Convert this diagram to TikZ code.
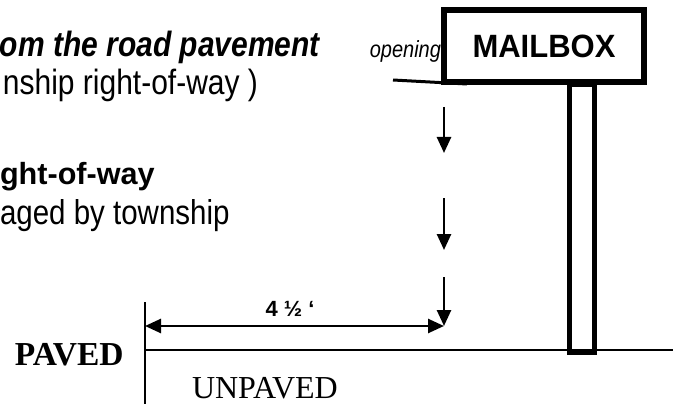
\documentclass[tikz,border=0pt]{standalone}
\usepackage{fontspec}
\setmainfont{Liberation Sans}
\newfontfamily\serifface{Liberation Serif}
\usetikzlibrary{arrows.meta}
\tikzset{
  fs/.style={font=\fontsize{#1}{#1}\selectfont},
  txt/.style={inner sep=0pt, outer sep=0pt},
  boxline/.style={draw, line width=5.5pt},
  dimarrow/.style={line width=2.6pt, -{Triangle[length=16pt,width=14pt]}},
  thinline/.style={line width=1.4pt},
  groundline/.style={line width=2pt},
}
\newcommand{\tallfont}[1]{\scalebox{1}[1.17]{#1}}
\begin{document}
\begin{tikzpicture}[x=1pt,y=-1pt]
\useasboundingbox (0,0) rectangle (673,404);
% top texts
\node[txt, anchor=base east, fs=30] (t1) at (320,56.5) {\tallfont{\bfseries\itshape om the road pavement}};
\node[txt, anchor=base east, fs=30] (t2) at (258,95) {\tallfont{nship right-of-way )}};
\node[txt, anchor=base west, font=\fontsize{30.6}{30.6}\selectfont\bfseries] (t3) at (0,184) {ght-of-way};
\node[txt, anchor=base west, fs=29.5] (t4) at (0,224) {\tallfont{aged by township}};
% mailbox and post
\node[boxline, minimum width=200pt, minimum height=72pt, inner sep=0pt, font=\fontsize{31}{31}\selectfont\bfseries] (mb) at (544,46) {\scalebox{1}[1.04]{MAILBOX}};
\node[boxline, minimum width=25pt, minimum height=267.5pt, inner sep=0pt, anchor=north] (post) at (582,82) {};
% opening
\node[txt, anchor=base east, font=\fontsize{20}{20}\selectfont\itshape] (op) at (441,58) {\tallfont{opening}};
\coordinate (opA) at (393,80);
\coordinate (opB) at (467,84);
\draw[line width=3pt] (opA) -- (opB);
% ground
\coordinate (gl) at (145,349.5);
\coordinate (gr) at (673,349.5);
\coordinate (vt) at (145,302);
\coordinate (vb) at (145,404);
\draw[groundline] (gl) -- (gr);
\draw[groundline] (vt) -- (vb);
% vertical arrows
\coordinate (a1s) at (444,107);
\coordinate (a1e) at (444,153);
\coordinate (a2s) at (444,198);
\coordinate (a2e) at (444,250);
\coordinate (a3s) at (444,277);
\coordinate (a3e) at (444,326);
\draw[dimarrow] (a1s) -- (a1e);
\draw[dimarrow] (a2s) -- (a2e);
\draw[dimarrow] (a3s) -- (a3e);
% dimension
\coordinate (dl) at (145,326);
\coordinate (dr) at (444,326);
\coordinate (dml) at (245,326);
\coordinate (dmr) at (370,326);
\draw[thinline] (dml) -- (dmr);
\draw[dimarrow] (dml) -- (dl);
\draw[dimarrow] (dmr) -- (dr);
\node[txt, anchor=base, font=\fontsize{22}{22}\selectfont\bfseries] (dim) at (290,316) {4 ½ ‘};
% labels
\node[txt, anchor=base west, font=\fontsize{33.5}{33.5}\selectfont\serifface\bfseries] (paved) at (15,365) {PAVED};
\node[txt, anchor=base west, font=\fontsize{32}{32}\selectfont\serifface] (unpaved) at (192,398) {UNPAVED};
\end{tikzpicture}
\end{document}
